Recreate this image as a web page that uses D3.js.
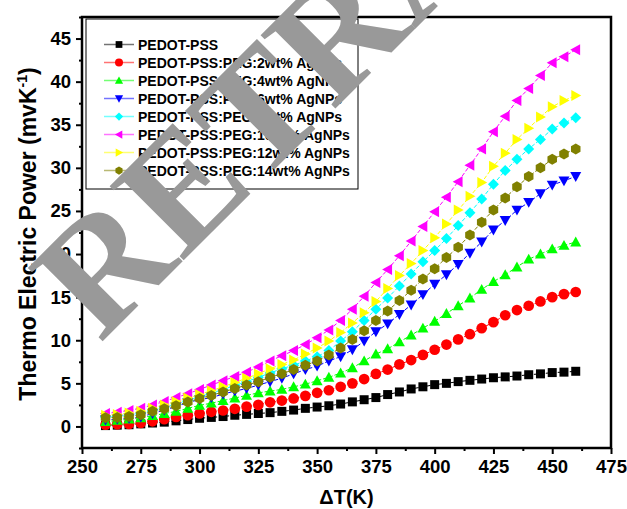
<!DOCTYPE html>
<html>
<head>
<meta charset="utf-8">
<title>Thermo Electric Power</title>
<style>
    body{ margin:0; background:#fff; }
    text{ font-family:"Liberation Sans", Arial, sans-serif; font-weight:bold; }
</style>
<script src="https://cdn.jsdelivr.net/npm/d3@7"></script>
</head>
<body>
<script>
var width = 627, height = 509;

// temperature difference (K)
var dT = d3.range(260, 461, 5);

var names = ["PEDOT-PSS", "PEDOT-PSS:PEG:2wt% AgNPs", "PEDOT-PSS:PEG:4wt% AgNPs", "PEDOT-PSS:PEG:6wt% AgNPs",
             "PEDOT-PSS:PEG:8wt% AgNPs", "PEDOT-PSS:PEG:10wt% AgNPs", "PEDOT-PSS:PEG:12wt% AgNPs", "PEDOT-PSS:PEG:14wt% AgNPs"];

var pedot = [0.1,0.15,0.2,0.3,0.4,0.5,0.65,0.8,0.95,1.05,1.15,1.3,1.4,1.5,1.6,1.75,1.9,2.1,2.25,2.4,2.6,2.85,3.1,3.35,3.7,4.0,4.35,4.6,4.85,5.0,5.2,5.35,5.5,5.65,5.75,5.85,6.0,6.1,6.25,6.3,6.4];
var ag2 = [0.2,0.25,0.3,0.4,0.6,0.85,1.1,1.3,1.5,1.7,1.85,2.05,2.3,2.5,2.8,3.0,3.25,3.55,3.9,4.2,4.6,5.0,5.5,6.1,6.6,7.2,7.7,8.3,8.9,9.5,10.1,10.7,11.4,12.1,12.9,13.5,14.0,14.5,15.0,15.35,15.6];
var ag4 = [0.55,0.7,0.85,1.0,1.25,1.5,1.75,2.1,2.45,2.7,3.0,3.3,3.6,3.9,4.1,4.3,4.6,4.9,5.3,5.7,6.2,6.8,7.6,8.4,9.0,9.8,10.6,11.4,12.2,13.1,14.0,14.9,15.9,16.8,17.6,18.5,19.4,20.0,20.6,21.0,21.4];
var ag6 = [0.75,0.85,0.95,1.1,1.5,1.9,2.3,2.8,3.1,3.35,3.75,4.1,4.4,4.8,5.2,5.6,6.1,6.6,7.0,7.6,8.1,8.9,9.9,11.0,11.9,13.0,14.1,15.3,16.5,17.6,18.8,20.1,21.4,22.8,23.9,25.1,26.0,27.0,28.0,28.5,29.0];
var ag8 = [1.1,1.2,1.3,1.55,1.9,2.25,2.6,3.05,3.45,3.85,4.3,4.75,5.2,5.7,6.2,6.7,7.1,7.6,8.1,8.8,9.9,11.0,12.3,13.6,14.9,16.3,17.7,19.1,20.4,21.8,23.3,24.8,26.4,28.1,29.7,31.0,32.2,33.3,34.5,35.2,35.8];
var ag10 = [1.5,1.65,1.85,2.1,2.5,2.9,3.35,3.8,4.3,4.8,5.3,5.8,6.3,6.9,7.6,8.2,8.8,9.5,10.3,11.2,12.3,13.6,15.1,16.7,18.2,19.8,21.5,23.2,24.9,26.6,28.4,30.3,32.2,34.2,36.0,37.8,39.2,40.7,42.2,42.9,43.7];
var ag12 = [1.3,1.4,1.55,1.75,2.1,2.5,2.9,3.3,3.7,4.15,4.6,5.1,5.6,6.1,6.7,7.2,7.7,8.4,9.1,9.9,10.9,12.0,13.2,14.5,16.0,17.5,18.9,20.4,21.9,23.5,25.1,26.7,28.3,30.2,31.7,33.3,34.6,35.9,37.1,37.8,38.4];
var ag14 = [1.0,1.05,1.15,1.35,1.75,2.05,2.4,2.85,3.25,3.6,4.0,4.4,4.8,5.2,5.7,6.1,6.6,7.1,7.6,8.3,9.1,10.1,11.1,12.3,13.4,14.6,15.8,17.1,18.3,19.6,20.8,22.2,23.7,25.1,26.5,27.8,29.0,30.0,31.0,31.6,32.2];

var colors = ["#000000", "#ff0000", "#00ff00", "#0000ff", "#00ffff", "#ff00ff", "#ffff00", "#808000"];
var xTicks = [250, 275, 300, 325, 350, 375, 400, 425, 450, 475];
var yTicks = [0, 5, 10, 15, 20, 25, 30, 35, 40, 45];

var allSeries = [pedot, ag2, ag4, ag6, ag8, ag10, ag12, ag14];

var svg = d3.select("body").append("svg")
            .attr("width", width)
            .attr("height", height);

var pL = 82, pR = 611, pT = 17, pB = 448;

var x = d3.scaleLinear().domain([250, 475]).range([pL, pR]);
var y = d3.scaleLinear().domain([-2.5, 47.5]).range([pB, pT]);

// marker shapes, one per series
function shape(k){
    var s = 5.5;
    if(k == 0) return "M-4.5,-4.5h9v9h-9z";
    if(k == 1) return d3.symbol().type(d3.symbolCircle).size(90)();
    if(k == 2) return "M0," + (-s) + "L" + s + "," + (s*0.8) + "L" + (-s) + "," + (s*0.8) + "z";
    if(k == 3) return "M0," + s + "L" + s + "," + (-s*0.8) + "L" + (-s) + "," + (-s*0.8) + "z";
    if(k == 4) return "M0," + (-s) + "L" + s + ",0L0," + s + "L" + (-s) + ",0z";
    if(k == 5) return "M" + (-s) + ",0L" + (s*0.8) + "," + (-s) + "L" + (s*0.8) + "," + s + "z";
    if(k == 6) return "M" + s + ",0L" + (-s*0.8) + "," + (-s) + "L" + (-s*0.8) + "," + s + "z";
    var pts = [];
    for(var i = 0; i < 6; i++){
        var a = Math.PI/6 + i*Math.PI/3;
        pts.push([Math.cos(a)*s, Math.sin(a)*s]);
    }
    return "M" + pts.join("L") + "z";
}

// axes
var xAxis = d3.axisBottom(x).tickValues(xTicks).tickSize(6).tickPadding(6).tickFormat(d3.format("d"));
var yAxis = d3.axisLeft(y).tickValues(yTicks).tickSize(6).tickPadding(5).tickFormat(d3.format("d"));
var xMinor = d3.axisBottom(x).tickValues(d3.range(262.5, 475, 25)).tickSize(3).tickFormat("");
var yMinor = d3.axisLeft(y).tickValues(d3.range(-2.5, 47.6, 5)).tickSize(3).tickFormat("");

function styleAxis(g){
    g.select(".domain").remove();
    g.selectAll(".tick line").attr("stroke", "#000").attr("stroke-width", 2);
    g.selectAll(".tick text").attr("fill", "#000").style("font-size", "18.5px");
}

svg.append("g").attr("transform", "translate(0," + pB + ")").call(xAxis).call(styleAxis);
svg.append("g").attr("transform", "translate(0," + pB + ")").call(xMinor).call(styleAxis);
svg.append("g").attr("transform", "translate(" + pL + ",0)").call(yAxis).call(styleAxis);
svg.append("g").attr("transform", "translate(" + pL + ",0)").call(yMinor).call(styleAxis);

// series
var line = d3.line().x(function(d){ return x(d[0]); }).y(function(d){ return y(d[1]); });
allSeries.forEach(function(vals, k){
    var pts = dT.map(function(t, i){ return [t, vals[i]]; });
    svg.append("path").datum(pts)
       .attr("d", line)
       .attr("fill", "none")
       .attr("stroke", colors[k])
       .attr("stroke-width", 1)
       .attr("stroke-dasharray", "4,2");
    svg.append("g").selectAll("path").data(pts).enter().append("path")
       .attr("d", shape(k))
       .attr("transform", function(d){ return "translate(" + x(d[0]) + "," + y(d[1]) + ")"; })
       .attr("fill", colors[k]);
});

// legend
var lg = svg.append("g");
lg.append("rect").attr("x", 86).attr("y", 19).attr("width", 272).attr("height", 170)
  .attr("fill", "none").attr("stroke", "#000").attr("stroke-width", 1);
names.forEach(function(n, k){
    var ly = 44.5 + k*18;
    lg.append("line").attr("x1", 104).attr("x2", 134).attr("y1", ly).attr("y2", ly)
      .attr("stroke", colors[k]).attr("stroke-opacity", 0.55).attr("stroke-width", 1.5);
    lg.append("path").attr("d", shape(k)).attr("fill", colors[k])
      .attr("transform", "translate(119," + ly + ") scale(0.75)");
    lg.append("text").attr("x", 138).attr("y", ly + 5.5).style("font-size", "14px").text(n);
});

// frame
svg.append("rect").attr("x", pL).attr("y", pT).attr("width", pR - pL).attr("height", pB - pT)
   .attr("fill", "none").attr("stroke", "#000").attr("stroke-width", 2.5);

// axis titles
svg.append("text").attr("x", (pL + pR)/2).attr("y", 504).attr("text-anchor", "middle")
   .style("font-size", "20px").text("\u0394T(K)");
var yt = svg.append("text").attr("transform", "translate(36,234) rotate(-90)").attr("text-anchor", "middle")
   .style("font-size", "23px");
yt.append("tspan").text("Thermo Electric Power (mvK");
yt.append("tspan").attr("dy", -9).style("font-size", "14px").text("-1");
yt.append("tspan").attr("dy", 9).text(")");

// retraction watermark
svg.append("text").attr("transform", "translate(100,344) rotate(-45)")
   .style("font-family", "'Liberation Serif', serif").style("font-weight", "bold")
   .style("font-size", "160px").attr("fill", "#999999").text("RETRACTED");
</script>
</body>
</html>
